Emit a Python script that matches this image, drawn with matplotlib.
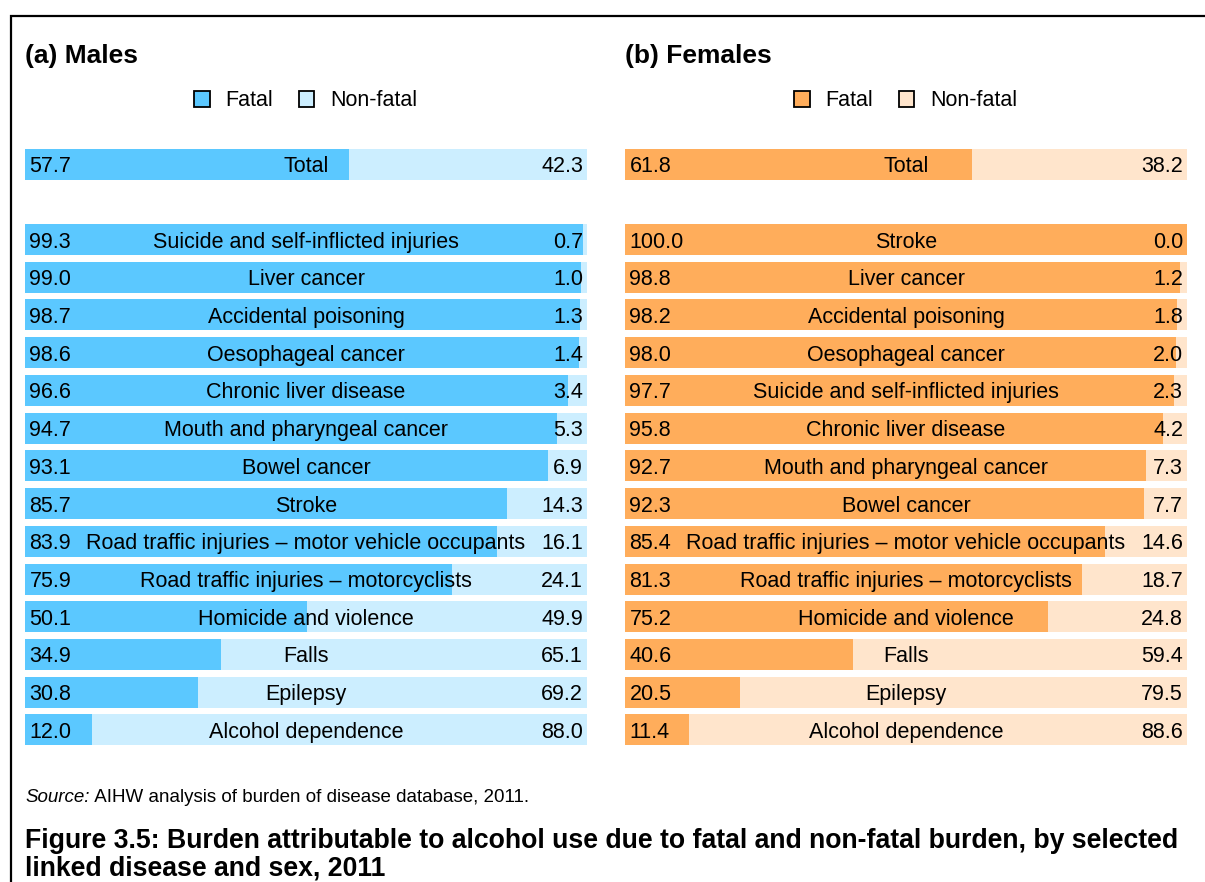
import matplotlib
matplotlib.use("Agg")
import matplotlib.pyplot as plt
from matplotlib.patches import Patch, Rectangle
from matplotlib.text import Annotation

plt.rcParams['font.family'] = ['Liberation Sans', 'DejaVu Sans']

male_cats = ["Total", "Suicide and self-inflicted injuries", "Liver cancer", "Accidental poisoning",
             "Oesophageal cancer", "Chronic liver disease", "Mouth and pharyngeal cancer",
             "Bowel cancer", "Stroke", "Road traffic injuries – motor vehicle occupants",
             "Road traffic injuries – motorcyclists", "Homicide and violence", "Falls",
             "Epilepsy", "Alcohol dependence"]
male_fatal = [57.7, 99.3, 99.0, 98.7, 98.6, 96.6, 94.7, 93.1, 85.7, 83.9, 75.9, 50.1, 34.9, 30.8, 12.0]
male_nonfatal = [42.3, 0.7, 1.0, 1.3, 1.4, 3.4, 5.3, 6.9, 14.3, 16.1, 24.1, 49.9, 65.1, 69.2, 88.0]

female_cats = ["Total", "Stroke", "Liver cancer", "Accidental poisoning", "Oesophageal cancer",
               "Suicide and self-inflicted injuries", "Chronic liver disease",
               "Mouth and pharyngeal cancer", "Bowel cancer",
               "Road traffic injuries – motor vehicle occupants",
               "Road traffic injuries – motorcyclists", "Homicide and violence", "Falls",
               "Epilepsy", "Alcohol dependence"]
female_fatal = [61.8, 100.0, 98.8, 98.2, 98.0, 97.7, 95.8, 92.7, 92.3, 85.4, 81.3, 75.2, 40.6, 20.5, 11.4]
female_nonfatal = [38.2, 0.0, 1.2, 1.8, 2.0, 2.3, 4.2, 7.3, 7.7, 14.6, 18.7, 24.8, 59.4, 79.5, 88.6]

W, H = 1205, 882
fig = plt.figure(figsize=(W / 100, H / 100), dpi=100)

# frame
fig.add_artist(Rectangle((11 / W, -0.1), 1.2, 1 - 16 / H + 0.1, transform=fig.transFigure,
                         fill=False, edgecolor='black', linewidth=1.6, clip_on=False))

panels = [
    (25, "(a) Males", male_cats, male_fatal, male_nonfatal, '#5BC8FF', '#CCEEFF'),
    (625, "(b) Females", female_cats, female_fatal, female_nonfatal, '#FFAD5B', '#FFE5CC'),
]

top_px, bot_px = 148.6, 745.4
fs = 15.5
for x0, title, cats, fat, nonfat, c1, c2 in panels:
    ax = fig.add_axes([x0 / W, 1 - bot_px / H, 562 / W, (bot_px - top_px) / H])
    ypos = [0] + list(range(2, 2 + len(cats) - 1))
    ax.barh(ypos, fat, height=0.82, color=c1, linewidth=0)
    ax.barh(ypos, nonfat, left=fat, height=0.82, color=c2, linewidth=0)
    for y, c, f, n in zip(ypos, cats, fat, nonfat):
        ax.text(0.8, y, f"{f:.1f}", ha='left', va='center_baseline', fontsize=fs)
        ax.text(50, y, c, ha='center', va='center_baseline', fontsize=fs)
        ax.text(99.3, y, f"{n:.1f}", ha='right', va='center_baseline', fontsize=fs)
    ax.set_xlim(0, 100)
    ax.set_ylim(15.41, -0.41)
    ax.axis('off')
    fig.text(x0 / W, 1 - 53 / H, title, fontsize=19, fontweight='bold', ha='left',
             va='center_baseline')
    handles = [Patch(facecolor=c1, edgecolor='black', linewidth=1.3, label='Fatal'),
               Patch(facecolor=c2, edgecolor='black', linewidth=1.3, label='Non-fatal')]
    fig.legend(handles=handles, loc='center', bbox_to_anchor=((x0 + 281) / W, 1 - 101 / H),
               ncol=2, frameon=False, fontsize=fs, handlelength=0.7, handleheight=0.7,
               handletextpad=0.75, columnspacing=1.2)

t1 = fig.text(25 / W, 1 - 795 / H, "Source:", fontsize=13.5, style='italic', ha='left',
              va='center_baseline')
fig.add_artist(Annotation(" AIHW analysis of burden of disease database, 2011.", xy=(1, 0),
                          xycoords=t1, ha='left', va='bottom', fontsize=13.5))
fig.text(25 / W, 1 - 838 / H, "Figure 3.5: Burden attributable to alcohol use due to fatal and non-fatal burden, by selected",
         fontsize=19.2, fontweight='bold', ha='left', va='center_baseline')
fig.text(25 / W, 1 - 866 / H, "linked disease and sex, 2011",
         fontsize=19.2, fontweight='bold', ha='left', va='center_baseline')

fig.savefig("out.png", dpi=100)
